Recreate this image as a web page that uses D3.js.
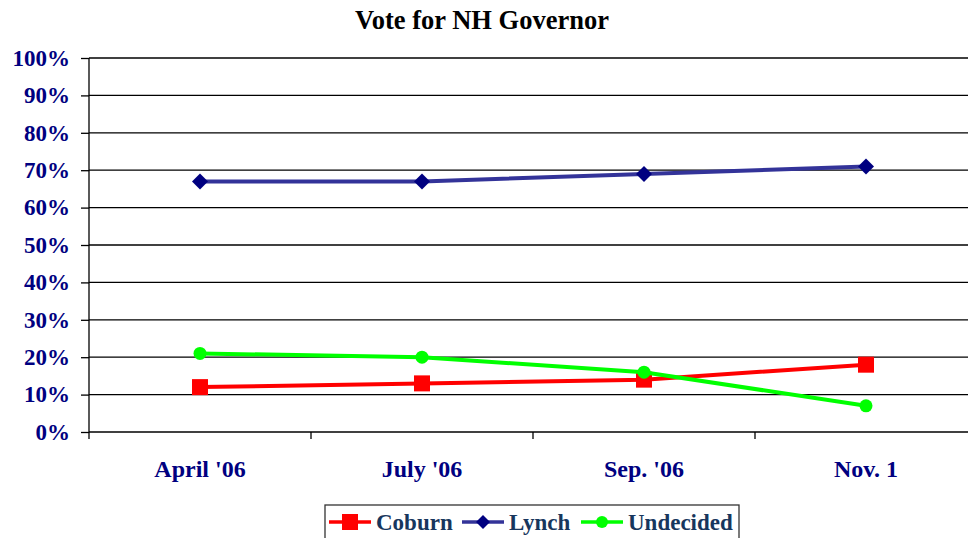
<!DOCTYPE html>
<html>
<head>
<meta charset="utf-8">
<script src="https://cdn.jsdelivr.net/npm/d3@7"></script>
<style>
  body { margin: 0; background: #fff; }
  svg { display: block; font-family: "Liberation Serif", "Times New Roman", serif; font-weight: bold; }
</style>
</head>
<body>
<svg id="chart" width="968" height="538"></svg>
<script>
// chart data
var categories = ["April '06", "July '06", "Sep. '06", "Nov. 1"]
var coburn = [12, 13, 14, 18]
var lynch = [67, 67, 69, 71]
var undecided = [21, 20, 16, 7]
var yTicks = [0, 10, 20, 30, 40, 50, 60, 70, 80, 90, 100]

var series = [
  {name: "Coburn", values: coburn, color: "#ff0000", line: "#ff0000", marker: "square"},
  {name: "Lynch", values: lynch, color: "#000080", line: "#333399", marker: "diamond"},
  {name: "Undecided", values: undecided, color: "#00ff00", line: "#00ff00", marker: "circle"}
]

var plotLeft = 89, plotRight = 977, plotTop = 58, plotBottom = 432
var navy = "#000080"

var svg = d3.select("svg#chart")

var x = d3.scaleBand().domain(categories).range([plotLeft, plotRight])
var y = d3.scaleLinear().domain([0, 100]).range([plotBottom, plotTop])

// title
svg.append("text")
    .attr("x", 482).attr("y", 29)
    .attr("text-anchor", "middle")
    .style("font-size", "26.5px")
    .attr("fill", "#000")
    .text("Vote for NH Governor")

// gridlines
svg.append("g")
  .selectAll("line")
  .data(yTicks)
  .join("line")
    .attr("x1", plotLeft).attr("x2", plotRight)
    .attr("y1", d => y(d)).attr("y2", d => y(d))
    .attr("stroke", "#000")
    .attr("stroke-width", 1.3)

// y axis
var yAxis = svg.append("g")
    .attr("transform", `translate(${plotLeft},0)`)
    .call(d3.axisLeft(y).tickValues(yTicks).tickSize(8).tickPadding(11).tickFormat(d => d + "%"))
yAxis.select(".domain").attr("stroke", "#000").attr("stroke-width", 1.3)
  .attr("d", `M0,${plotTop}V${plotBottom + 7}`)
yAxis.selectAll(".tick line").attr("stroke", "#000").attr("stroke-width", 1.3)
yAxis.selectAll("text")
    .attr("fill", navy)
    .style("font-size", "23px")
    .style("font-family", "Liberation Serif, serif")
    .style("font-weight", "bold")

// x axis
var xAxis = svg.append("g")
    .attr("transform", `translate(0,${plotBottom})`)
    .call(d3.axisBottom(x).tickSize(0).tickPadding(28))
xAxis.select(".domain").remove()
xAxis.selectAll("text")
    .attr("fill", navy)
    .style("font-size", "24px")
    .style("font-family", "Liberation Serif, serif")
    .style("font-weight", "bold")

// category separator ticks
svg.append("g")
  .selectAll("line")
  .data(categories.slice(1))
  .join("line")
    .attr("x1", d => x(d)).attr("x2", d => x(d))
    .attr("y1", plotBottom).attr("y2", plotBottom + 7)
    .attr("stroke", "#000").attr("stroke-width", 1.3)

var cx = d => x(d) + x.bandwidth() / 2

function drawMarker(g, type, color, px, py, s) {
  if (type == "square") {
    g.append("rect").attr("x", px - s).attr("y", py - s).attr("width", 2 * s).attr("height", 2 * s).attr("fill", color)
  } else if (type == "diamond") {
    g.append("path").attr("d", `M${px},${py - s - 2}L${px + s + 2},${py}L${px},${py + s + 2}L${px - s - 2},${py}Z`).attr("fill", color)
  } else {
    g.append("circle").attr("cx", px).attr("cy", py).attr("r", s).attr("fill", color)
  }
}

var line = d3.line().x((d, i) => cx(categories[i])).y(d => y(d))

var order = [series[1], series[0], series[2]]
order.forEach(s => {
  var g = svg.append("g")
  g.append("path")
      .attr("d", line(s.values))
      .attr("fill", "none")
      .attr("stroke", s.line)
      .attr("stroke-width", 4)
  s.values.forEach((v, i) => {
    var size = s.marker == "square" ? 8 : s.marker == "diamond" ? 6 : 6.5
    drawMarker(g, s.marker, s.color, cx(categories[i]), y(v), size)
  })
})

// legend
var legend = svg.append("g")
legend.append("rect")
    .attr("x", 325).attr("y", 505).attr("width", 414).attr("height", 40)
    .attr("fill", "#fff").attr("stroke", "#333").attr("stroke-width", 1.3)

var legendX = [329, 462, 581]
series.forEach((s, i) => {
  var lx = legendX[i], ly = 522
  legend.append("line")
      .attr("x1", lx).attr("x2", lx + 42)
      .attr("y1", ly).attr("y2", ly)
      .attr("stroke", s.line).attr("stroke-width", 3.5)
  var size = s.marker == "square" ? 8 : s.marker == "diamond" ? 5 : 6
  drawMarker(legend, s.marker, s.color, lx + 21, ly, size)
  legend.append("text")
      .attr("x", lx + 47).attr("y", ly + 8)
      .attr("fill", "#17365d")
      .style("font-size", "23px")
      .text(s.name)
})
</script>
</body>
</html>
